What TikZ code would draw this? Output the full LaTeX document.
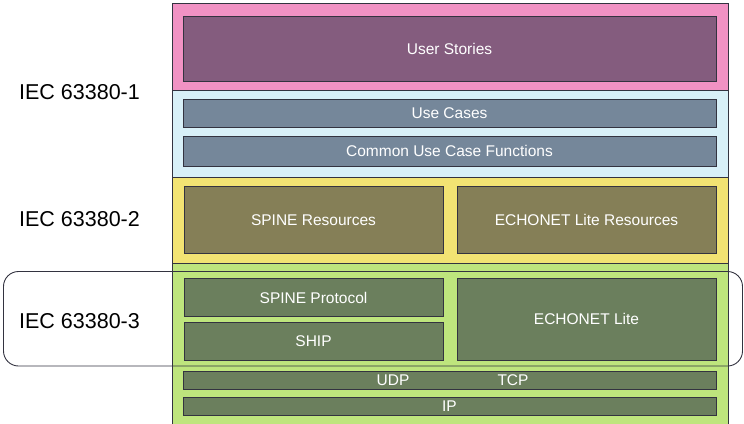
\documentclass[tikz,border=0pt]{standalone}
\usepackage{fontspec}
\setmainfont{Liberation Sans}
\definecolor{pinkband}{HTML}{F192C4}
\definecolor{pinkin}{HTML}{845C7E}
\definecolor{blueband}{HTML}{D8F0F8}
\definecolor{bluein}{HTML}{75879A}
\definecolor{yelband}{HTML}{F2E373}
\definecolor{yelin}{HTML}{857F57}
\definecolor{grnband}{HTML}{BEE57D}
\definecolor{grnin}{HTML}{6B7F5D}
\definecolor{edge}{HTML}{333340}
\tikzset{
  band/.style={draw=edge, line width=0.8pt},
  inbox/.style={draw=edge, line width=0.8pt, rectangle, inner sep=0pt, text=white, font=\fontsize{15.5}{18}\selectfont},
  lbl/.style={font=\fontsize{21.5}{26}\selectfont, text=black, inner sep=0pt},
  txt/.style={text=white, font=\fontsize{15.5}{18}\selectfont, inner sep=0pt}
}
\begin{document}
\begin{tikzpicture}[x=1pt,y=-1pt]
\useasboundingbox (0,0) rectangle (744,423);
% bands
\path[band, fill=pinkband] (172,3) rectangle (728,90);
\path[band, fill=blueband] (172,90) rectangle (728,177.5);
\path[band, fill=yelband] (172,177.5) rectangle (728,263.5);
\fill[grnband] (172,263.5) rectangle (728,424);
\draw[edge, line width=0.8pt] (172,424) -- (172,263.5) -- (728,263.5) -- (728,424);
% inner boxes
\node[inbox, fill=pinkin, minimum width=533, minimum height=65] (us) at (449.5,49) {User Stories};
\node[inbox, fill=bluein, minimum width=533, minimum height=28] (uc) at (449.5,113.3) {Use Cases};
\node[inbox, fill=bluein, minimum width=533, minimum height=30] (cucf) at (449.5,151) {Common Use Case Functions};
\node[inbox, fill=yelin, minimum width=259, minimum height=66.5] (sr) at (313.5,220) {SPINE Resources};
\node[inbox, fill=yelin, minimum width=259, minimum height=66.5] (er) at (586.5,220) {ECHONET Lite Resources};
\node[inbox, fill=grnin, minimum width=259, minimum height=38.5] (sp) at (313.5,297.5) {SPINE Protocol};
\node[inbox, fill=grnin, minimum width=259, minimum height=38] (ship) at (313.5,341) {SHIP};
\node[inbox, fill=grnin, minimum width=259, minimum height=82] (el) at (586.5,319) {ECHONET Lite};
\node[inbox, fill=grnin, minimum width=533, minimum height=17.5] (tl) at (449.5,380.5) {};
\node[txt] (udp) at (393,380.5) {UDP};
\node[txt] (tcp) at (513,380.5) {TCP};
\node[inbox, fill=grnin, minimum width=533, minimum height=18] (ip) at (449.5,406) {IP};
% labels
\node[lbl] (l1) at (79.5,92) {IEC 63380-1};
\node[lbl] (l2) at (79.5,219) {IEC 63380-2};
\node[lbl] (l3) at (79.5,321) {IEC 63380-3};
\draw[edge, line width=0.9pt, rounded corners=15] (3.5,271.5) rectangle (742.5,366);
\end{tikzpicture}
\end{document}
